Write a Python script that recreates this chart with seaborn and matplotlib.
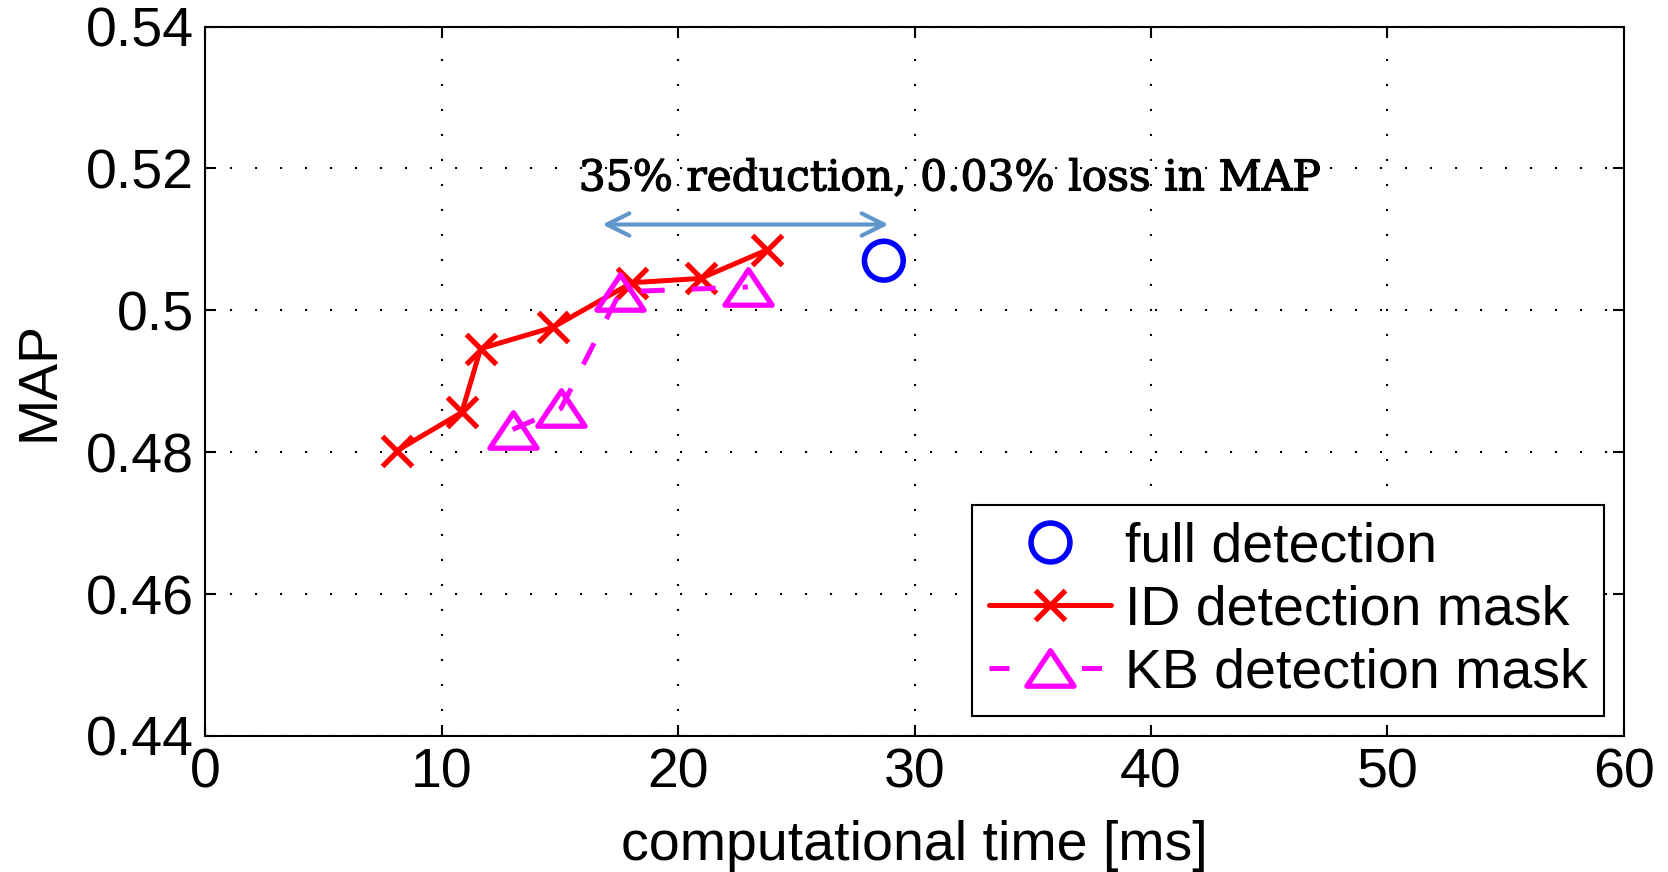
import numpy as np
import pandas as pd
import matplotlib
matplotlib.use("Agg")
import matplotlib.pyplot as plt
import matplotlib.patheffects as pe
import seaborn as sns
from matplotlib.lines import Line2D
from matplotlib.path import Path

# ---- data ----
full_time = [28.7]
full_map = [0.5070]

id_time = [8.1, 10.85, 11.65, 14.7, 18.05, 20.95, 23.75]
id_map = [0.4802, 0.4856, 0.4946, 0.4976, 0.5039, 0.5045, 0.5085]

kb_time = [13.0, 15.05, 17.55, 22.95]
kb_map = [0.4832, 0.4862, 0.5026, 0.5033]

arrow_x = [16.8, 28.9]
arrow_y = 0.5121
annot_text = "35% reduction, 0.03% loss in MAP"

x_ticks = [0, 10, 20, 30, 40, 50, 60]
y_ticks = [0.44, 0.46, 0.48, 0.5, 0.52, 0.54]
y_tick_labels = ["0.44", "0.46", "0.48", "0.5", "0.52", "0.54"]

sns.set_theme(style="white")
plt.rcParams['font.family'] = ['Liberation Sans', 'DejaVu Sans']
plt.rcParams['text.color'] = 'black'
plt.rcParams['axes.labelcolor'] = 'black'
plt.rcParams['xtick.color'] = 'black'
plt.rcParams['ytick.color'] = 'black'

FS = 40
tri = Path([(0, 0.75), (-1, -0.75), (1, -0.75), (0, 0.75)],
           [Path.MOVETO, Path.LINETO, Path.LINETO, Path.CLOSEPOLY])

fig = plt.figure(figsize=(16.68, 8.72), dpi=100)
ax = fig.add_axes([0.123, 0.156, 0.8506, 0.8135])

df_id = pd.DataFrame({"t": id_time, "m": id_map})
df_kb = pd.DataFrame({"t": kb_time, "m": kb_map})
df_full = pd.DataFrame({"t": full_time, "m": full_map})

sns.lineplot(data=df_id, x="t", y="m", ax=ax, sort=False, color="red",
             linewidth=3.6, marker="x", markersize=21, markeredgewidth=3.8,
             markeredgecolor="red", zorder=3)
sns.lineplot(data=df_kb, x="t", y="m", ax=ax, sort=False, color="magenta",
             linewidth=3.6, dashes=False, marker=tri, markersize=34,
             markerfacecolor="none", markeredgecolor="magenta",
             markeredgewidth=3.8, zorder=4)
ax.lines[-1].set_dashes((4.8, 5.4))
sns.scatterplot(data=df_full, x="t", y="m", ax=ax, marker="o", s=780,
                facecolor="none", edgecolor="blue", linewidth=4, zorder=5)

ax.annotate("", xy=(arrow_x[0], arrow_y), xytext=(arrow_x[1], arrow_y),
            arrowprops=dict(arrowstyle="<->,head_length=1.6,head_width=0.8",
                            color="#6096CB", lw=3.0, shrinkA=0, shrinkB=0,
                            mutation_scale=10))
ax.text(31.5, 0.5186, annot_text, ha="center", va="center",
        family="DejaVu Serif", fontsize=30.5, color="black",
        path_effects=[pe.withStroke(linewidth=0.9, foreground="black")])

ax.set_xlim(0, 60)
ax.set_ylim(0.44, 0.54)
ax.set_xticks(x_ticks)
ax.set_yticks(y_ticks)
ax.set_yticklabels(y_tick_labels)
ax.grid(True, color="black", linestyle=(0, (1, 11)), linewidth=1.5)
ax.tick_params(direction="in", length=8, width=1.5, labelsize=FS,
               top=True, right=True, left=True, bottom=True, colors="black",
               labelcolor="black", pad=8)
for s in ax.spines.values():
    s.set_visible(True)
    s.set_color("black")
    s.set_linewidth(1.5)
ax.set_xlabel("computational time [ms]", fontsize=FS, labelpad=15, color="black")
ax.set_ylabel("MAP", fontsize=FS, labelpad=15, color="black")

handles = [
    Line2D([], [], linestyle="none", marker="o", markersize=28,
           markerfacecolor="none", markeredgecolor="blue", markeredgewidth=4),
    Line2D([], [], color="red", linewidth=3.6, marker="x", markersize=21,
           markeredgewidth=3.8),
    Line2D([], [], color="magenta", linewidth=3.6, linestyle=(0, (4, 14.5)),
           marker=tri, markersize=34, markerfacecolor="none",
           markeredgewidth=3.8),
]
labels = ["full detection", "ID detection mask", "KB detection mask"]
leg = ax.legend(handles, labels, loc="lower right", fontsize=FS,
                frameon=True, fancybox=False, edgecolor="black",
                framealpha=1, handlelength=2.2, borderpad=0.3,
                labelspacing=0.2, handletextpad=0.25, borderaxespad=0,
                bbox_to_anchor=(0.986, 0.028))
leg.get_frame().set_linewidth(1.5)
for t in leg.get_texts():
    t.set_color("black")

fig.savefig("out.png", dpi=100)
